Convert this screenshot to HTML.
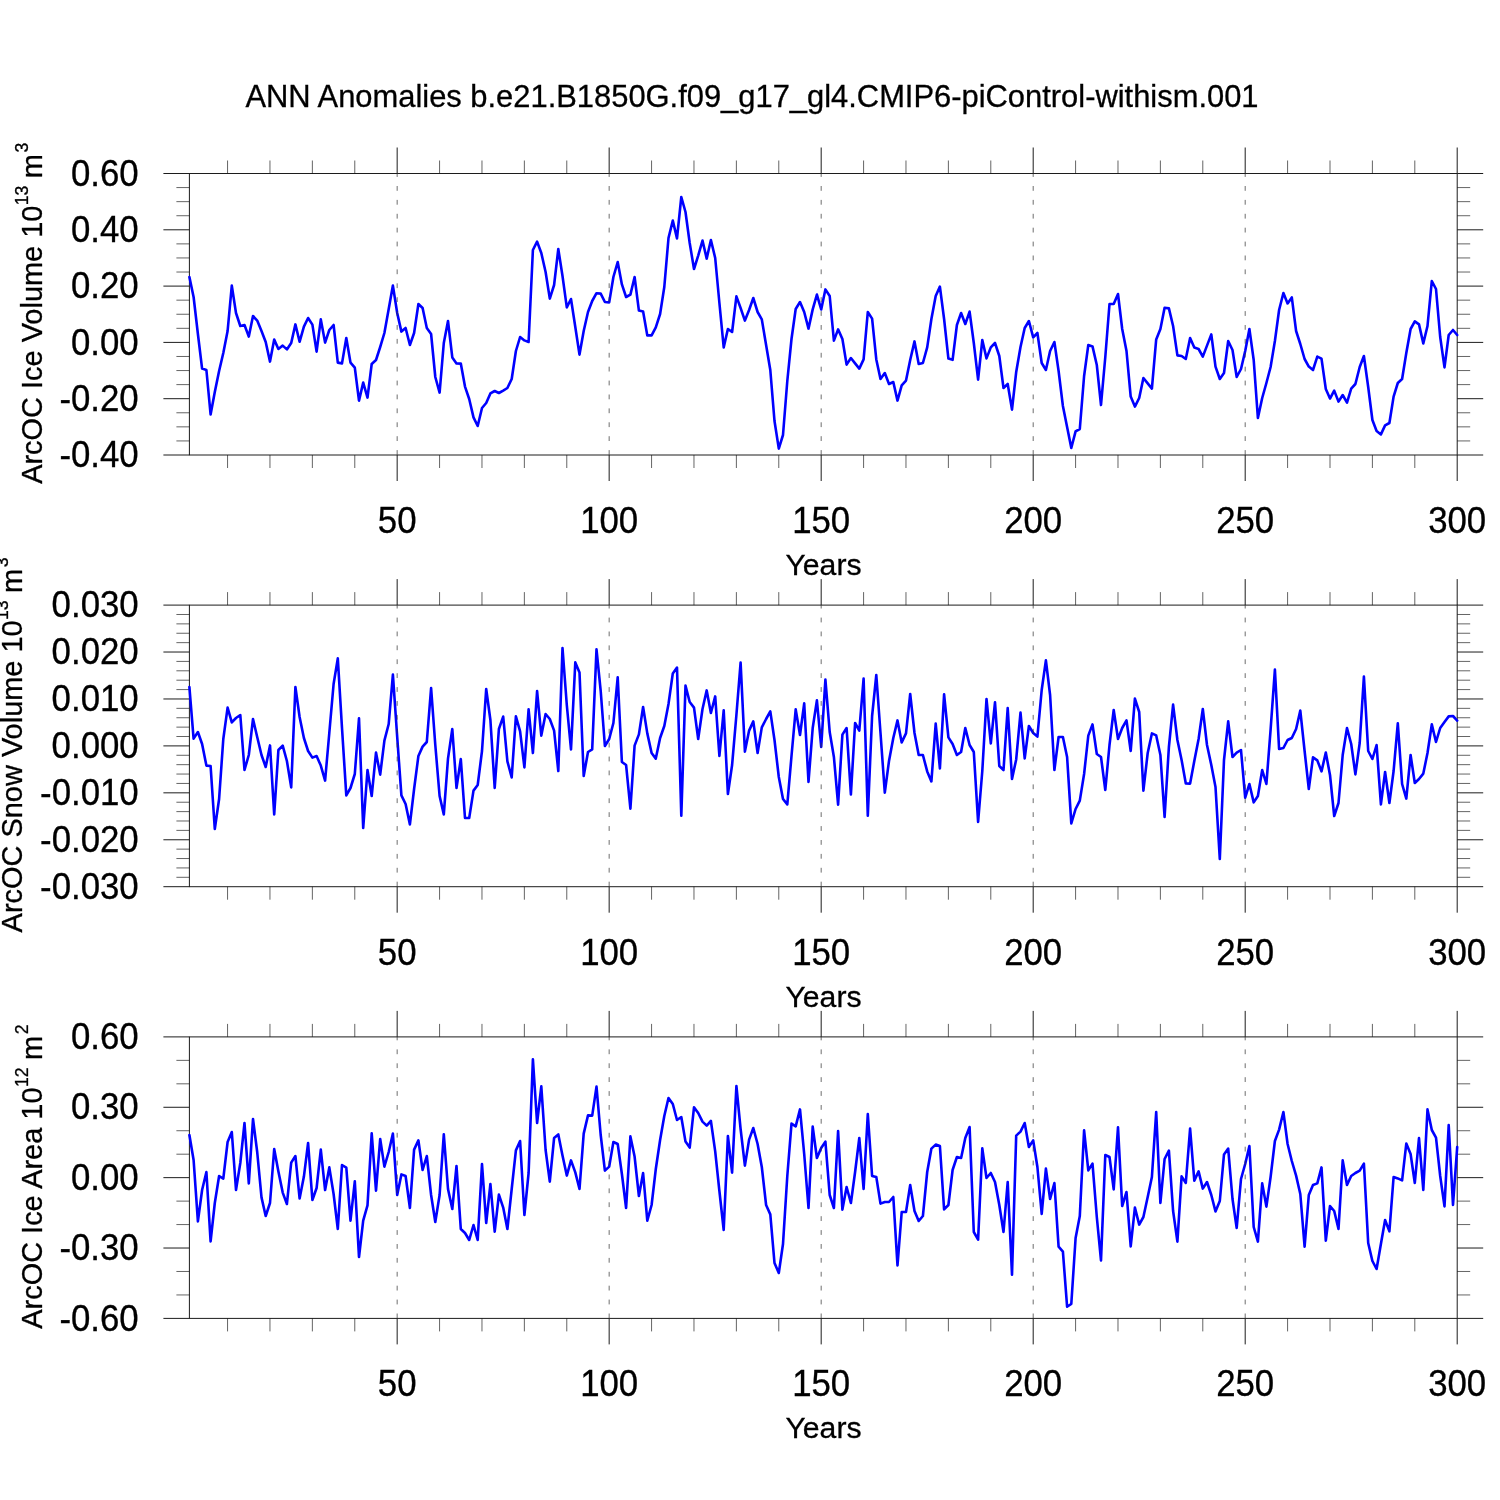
<!DOCTYPE html>
<html><head><meta charset="utf-8"><title>ANN Anomalies</title>
<style>
html,body{margin:0;padding:0;background:#fff;}
svg{display:block;}
text{font-family:"Liberation Sans",Arial,Helvetica,sans-serif;fill:#000;stroke:#000;stroke-width:0.3px;}
.tl{font-size:34.8px;}
.ax{font-size:30.2px;}
.sup{font-size:17.6px;}
.yl{font-size:28.95px;}
.fr{stroke:#1c1c1c;stroke-width:1;fill:none;}
.mj{stroke:#1c1c1c;stroke-width:1;}
.mn{stroke:#111;stroke-width:0.65;}
.gd{stroke:#333;stroke-width:0.72;stroke-dasharray:4.8 9.1;stroke-dashoffset:1.4;fill:none;}
.ln{stroke:#0000ff;stroke-width:2.6;fill:none;stroke-linejoin:round;stroke-linecap:round;}
</style></head><body>
<svg width="1500" height="1500" viewBox="0 0 1500 1500">
<rect width="1500" height="1500" fill="#fff"/>
<text class="ax" x="752" y="106.5" text-anchor="middle" style="font-size:30.9px">ANN Anomalies b.e21.B1850G.f09_g17_gl4.CMIP6-piControl-withism.001</text>

<g>
<rect class="fr" x="189.40" y="173.50" width="1267.80" height="281.50"/>
<path class="mj" d="M397.17 173.50V147.50M397.17 455.00V481.00M609.17 173.50V147.50M609.17 455.00V481.00M821.18 173.50V147.50M821.18 455.00V481.00M1033.19 173.50V147.50M1033.19 455.00V481.00M1245.19 173.50V147.50M1245.19 455.00V481.00M1457.20 173.50V147.50M1457.20 455.00V481.00M189.40 173.50H163.40M1457.20 173.50H1483.20M189.40 229.80H163.40M1457.20 229.80H1483.20M189.40 286.10H163.40M1457.20 286.10H1483.20M189.40 342.40H163.40M1457.20 342.40H1483.20M189.40 398.70H163.40M1457.20 398.70H1483.20M189.40 455.00H163.40M1457.20 455.00H1483.20"/>
<path class="mn" d="M227.56 173.50V160.50M227.56 455.00V468.00M269.96 173.50V160.50M269.96 455.00V468.00M312.36 173.50V160.50M312.36 455.00V468.00M354.77 173.50V160.50M354.77 455.00V468.00M439.57 173.50V160.50M439.57 455.00V468.00M481.97 173.50V160.50M481.97 455.00V468.00M524.37 173.50V160.50M524.37 455.00V468.00M566.77 173.50V160.50M566.77 455.00V468.00M651.57 173.50V160.50M651.57 455.00V468.00M693.98 173.50V160.50M693.98 455.00V468.00M736.38 173.50V160.50M736.38 455.00V468.00M778.78 173.50V160.50M778.78 455.00V468.00M863.58 173.50V160.50M863.58 455.00V468.00M905.98 173.50V160.50M905.98 455.00V468.00M948.38 173.50V160.50M948.38 455.00V468.00M990.79 173.50V160.50M990.79 455.00V468.00M1075.59 173.50V160.50M1075.59 455.00V468.00M1117.99 173.50V160.50M1117.99 455.00V468.00M1160.39 173.50V160.50M1160.39 455.00V468.00M1202.79 173.50V160.50M1202.79 455.00V468.00M1287.59 173.50V160.50M1287.59 455.00V468.00M1330.00 173.50V160.50M1330.00 455.00V468.00M1372.40 173.50V160.50M1372.40 455.00V468.00M1414.80 173.50V160.50M1414.80 455.00V468.00M189.40 187.57H176.40M1457.20 187.57H1470.20M189.40 201.65H176.40M1457.20 201.65H1470.20M189.40 215.72H176.40M1457.20 215.72H1470.20M189.40 243.88H176.40M1457.20 243.88H1470.20M189.40 257.95H176.40M1457.20 257.95H1470.20M189.40 272.02H176.40M1457.20 272.02H1470.20M189.40 300.17H176.40M1457.20 300.17H1470.20M189.40 314.25H176.40M1457.20 314.25H1470.20M189.40 328.32H176.40M1457.20 328.32H1470.20M189.40 356.47H176.40M1457.20 356.47H1470.20M189.40 370.55H176.40M1457.20 370.55H1470.20M189.40 384.62H176.40M1457.20 384.62H1470.20M189.40 412.77H176.40M1457.20 412.77H1470.20M189.40 426.85H176.40M1457.20 426.85H1470.20M189.40 440.93H176.40M1457.20 440.93H1470.20"/>
<text class="tl" transform="translate(138.7 185.70) scale(1 1.05)" text-anchor="end">0.60</text>
<text class="tl" transform="translate(138.7 242.00) scale(1 1.05)" text-anchor="end">0.40</text>
<text class="tl" transform="translate(138.7 298.30) scale(1 1.05)" text-anchor="end">0.20</text>
<text class="tl" transform="translate(138.7 354.60) scale(1 1.05)" text-anchor="end">0.00</text>
<text class="tl" transform="translate(138.7 410.90) scale(1 1.05)" text-anchor="end">-0.20</text>
<text class="tl" transform="translate(138.7 467.20) scale(1 1.05)" text-anchor="end">-0.40</text>
<text class="tl" transform="translate(397.17 532.80) scale(1 1.05)" text-anchor="middle">50</text>
<text class="tl" transform="translate(609.17 532.80) scale(1 1.05)" text-anchor="middle">100</text>
<text class="tl" transform="translate(821.18 532.80) scale(1 1.05)" text-anchor="middle">150</text>
<text class="tl" transform="translate(1033.19 532.80) scale(1 1.05)" text-anchor="middle">200</text>
<text class="tl" transform="translate(1245.19 532.80) scale(1 1.05)" text-anchor="middle">250</text>
<text class="tl" transform="translate(1457.20 532.80) scale(1 1.05)" text-anchor="middle">300</text>
<text class="ax" x="823.5" y="575.00" text-anchor="middle">Years</text>
<text class="yl" transform="translate(42.30 313.25) rotate(-90) scale(1 1.02)" text-anchor="middle">ArcOC Ice Volume 10<tspan class="sup" dy="-13.7" dx="0.4">13</tspan><tspan dy="13.7" dx="-0.6"> m</tspan><tspan class="sup" dy="-13.7" dx="1.6">3</tspan></text>
<polyline class="ln" points="189.4,277.0 193.6,297.0 197.9,334.0 202.1,368.6 206.4,370.0 210.6,414.4 214.8,392.0 219.1,371.0 223.3,353.0 227.6,331.0 231.8,285.6 236.0,313.0 240.3,326.0 244.5,325.0 248.8,336.6 253.0,316.0 257.2,320.6 261.5,331.0 265.7,342.0 270.0,361.6 274.2,339.6 278.4,349.0 282.7,345.6 286.9,349.4 291.2,343.0 295.4,324.4 299.6,341.8 303.9,326.6 308.1,318.0 312.4,324.6 316.6,351.6 320.8,319.4 325.1,342.6 329.3,330.0 333.6,325.0 337.8,362.6 342.0,363.4 346.3,338.0 350.5,362.6 354.8,367.6 359.0,400.6 363.2,382.6 367.5,397.6 371.7,364.0 376.0,360.0 380.2,347.0 384.4,333.0 388.7,309.0 392.9,285.6 397.2,313.0 401.4,331.6 405.6,328.0 409.9,345.0 414.1,333.0 418.4,304.0 422.6,308.0 426.8,328.0 431.1,334.0 435.3,377.0 439.6,392.6 443.8,343.0 448.0,321.0 452.3,357.4 456.5,363.4 460.8,363.6 465.0,386.6 469.2,399.0 473.5,417.4 477.7,426.0 482.0,408.0 486.2,403.0 490.4,393.4 494.7,391.0 498.9,393.0 503.2,390.6 507.4,388.0 511.7,379.0 515.9,351.0 520.1,337.0 524.4,340.4 528.6,342.0 532.9,250.0 537.1,241.6 541.3,253.0 545.6,272.0 549.8,298.6 554.1,285.0 558.3,249.0 562.5,276.0 566.8,307.4 571.0,299.0 575.3,327.0 579.5,354.6 583.7,331.0 588.0,312.0 592.2,301.0 596.5,293.2 600.7,293.6 604.9,302.0 609.2,302.4 613.4,277.0 617.7,262.0 621.9,284.4 626.1,297.0 630.4,294.6 634.6,277.0 638.9,310.6 643.1,311.6 647.3,335.4 651.6,335.4 655.8,327.4 660.1,314.0 664.3,287.0 668.5,238.0 672.8,220.6 677.0,238.4 681.3,197.0 685.5,212.0 689.7,243.0 694.0,269.0 698.2,255.6 702.5,240.6 706.7,258.6 710.9,240.0 715.2,258.0 719.4,303.0 723.7,347.4 727.9,329.0 732.1,332.0 736.4,296.4 740.6,308.0 744.9,320.6 749.1,310.0 753.3,298.0 757.6,312.0 761.8,319.4 766.1,345.0 770.3,370.0 774.5,421.0 778.8,448.6 783.0,435.0 787.3,381.0 791.5,339.0 795.7,309.0 800.0,302.0 804.2,312.0 808.5,328.6 812.7,309.4 816.9,294.6 821.2,309.4 825.4,289.4 829.7,296.0 833.9,340.6 838.1,329.4 842.4,339.0 846.6,364.6 850.9,358.0 855.1,363.4 859.3,368.6 863.6,359.4 867.8,312.0 872.1,318.6 876.3,359.4 880.5,379.0 884.8,373.0 889.0,384.0 893.3,382.0 897.5,400.6 901.7,385.4 906.0,380.6 910.2,360.0 914.5,341.4 918.7,364.0 922.9,363.0 927.2,347.4 931.4,319.0 935.7,296.0 939.9,286.6 944.1,319.0 948.4,358.6 952.6,359.8 956.9,325.0 961.1,313.0 965.3,324.0 969.6,311.6 973.8,343.0 978.1,379.6 982.3,340.0 986.5,358.4 990.8,347.4 995.0,343.0 999.3,356.0 1003.5,388.0 1007.7,384.0 1012.0,409.6 1016.2,372.0 1020.5,347.0 1024.7,328.0 1028.9,321.0 1033.2,337.4 1037.4,333.0 1041.7,363.0 1045.9,370.0 1050.1,351.0 1054.4,342.0 1058.6,371.0 1062.9,406.0 1067.1,427.0 1071.3,448.0 1075.6,431.4 1079.8,429.0 1084.1,376.0 1088.3,345.0 1092.5,346.4 1096.8,365.0 1101.0,405.0 1105.3,357.0 1109.5,304.0 1113.7,304.0 1118.0,294.0 1122.2,329.0 1126.5,351.0 1130.7,396.6 1134.9,406.6 1139.2,398.0 1143.4,378.0 1147.7,383.4 1151.9,388.6 1156.2,339.4 1160.4,329.0 1164.6,307.8 1168.9,308.4 1173.1,326.0 1177.4,355.4 1181.6,356.0 1185.8,359.0 1190.1,338.0 1194.3,347.6 1198.6,349.0 1202.8,356.6 1207.0,345.6 1211.3,334.4 1215.5,366.6 1219.8,379.0 1224.0,373.0 1228.2,341.0 1232.5,350.0 1236.7,377.0 1241.0,369.0 1245.2,351.0 1249.4,329.0 1253.7,360.0 1257.9,418.0 1262.2,398.0 1266.4,383.0 1270.6,367.0 1274.9,341.0 1279.1,310.0 1283.4,293.0 1287.6,303.4 1291.8,297.4 1296.1,331.0 1300.3,344.0 1304.6,359.0 1308.8,366.6 1313.0,370.0 1317.3,356.6 1321.5,358.6 1325.8,389.0 1330.0,398.6 1334.2,390.6 1338.5,401.6 1342.7,395.0 1347.0,402.6 1351.2,388.6 1355.4,384.0 1359.7,367.0 1363.9,356.0 1368.2,387.0 1372.4,420.0 1376.6,431.0 1380.9,434.4 1385.1,425.4 1389.4,423.0 1393.6,396.6 1397.8,383.0 1402.1,379.0 1406.3,353.0 1410.6,329.0 1414.8,321.4 1419.0,324.4 1423.3,343.4 1427.5,326.0 1431.8,281.0 1436.0,289.0 1440.2,337.0 1444.5,367.4 1448.7,335.0 1453.0,330.0 1457.2,335.0"/>
<path class="gd" d="M397.17 173.50V455.00M609.17 173.50V455.00M821.18 173.50V455.00M1033.19 173.50V455.00M1245.19 173.50V455.00"/>
</g>
<g>
<rect class="fr" x="189.40" y="605.10" width="1267.80" height="281.60"/>
<path class="mj" d="M397.17 605.10V579.10M397.17 886.70V912.70M609.17 605.10V579.10M609.17 886.70V912.70M821.18 605.10V579.10M821.18 886.70V912.70M1033.19 605.10V579.10M1033.19 886.70V912.70M1245.19 605.10V579.10M1245.19 886.70V912.70M1457.20 605.10V579.10M1457.20 886.70V912.70M189.40 605.10H163.40M1457.20 605.10H1483.20M189.40 652.03H163.40M1457.20 652.03H1483.20M189.40 698.97H163.40M1457.20 698.97H1483.20M189.40 745.90H163.40M1457.20 745.90H1483.20M189.40 792.83H163.40M1457.20 792.83H1483.20M189.40 839.77H163.40M1457.20 839.77H1483.20M189.40 886.70H163.40M1457.20 886.70H1483.20"/>
<path class="mn" d="M227.56 605.10V592.10M227.56 886.70V899.70M269.96 605.10V592.10M269.96 886.70V899.70M312.36 605.10V592.10M312.36 886.70V899.70M354.77 605.10V592.10M354.77 886.70V899.70M439.57 605.10V592.10M439.57 886.70V899.70M481.97 605.10V592.10M481.97 886.70V899.70M524.37 605.10V592.10M524.37 886.70V899.70M566.77 605.10V592.10M566.77 886.70V899.70M651.57 605.10V592.10M651.57 886.70V899.70M693.98 605.10V592.10M693.98 886.70V899.70M736.38 605.10V592.10M736.38 886.70V899.70M778.78 605.10V592.10M778.78 886.70V899.70M863.58 605.10V592.10M863.58 886.70V899.70M905.98 605.10V592.10M905.98 886.70V899.70M948.38 605.10V592.10M948.38 886.70V899.70M990.79 605.10V592.10M990.79 886.70V899.70M1075.59 605.10V592.10M1075.59 886.70V899.70M1117.99 605.10V592.10M1117.99 886.70V899.70M1160.39 605.10V592.10M1160.39 886.70V899.70M1202.79 605.10V592.10M1202.79 886.70V899.70M1287.59 605.10V592.10M1287.59 886.70V899.70M1330.00 605.10V592.10M1330.00 886.70V899.70M1372.40 605.10V592.10M1372.40 886.70V899.70M1414.80 605.10V592.10M1414.80 886.70V899.70M189.40 614.49H176.40M1457.20 614.49H1470.20M189.40 623.87H176.40M1457.20 623.87H1470.20M189.40 633.26H176.40M1457.20 633.26H1470.20M189.40 642.65H176.40M1457.20 642.65H1470.20M189.40 661.42H176.40M1457.20 661.42H1470.20M189.40 670.81H176.40M1457.20 670.81H1470.20M189.40 680.19H176.40M1457.20 680.19H1470.20M189.40 689.58H176.40M1457.20 689.58H1470.20M189.40 708.35H176.40M1457.20 708.35H1470.20M189.40 717.74H176.40M1457.20 717.74H1470.20M189.40 727.13H176.40M1457.20 727.13H1470.20M189.40 736.51H176.40M1457.20 736.51H1470.20M189.40 755.29H176.40M1457.20 755.29H1470.20M189.40 764.67H176.40M1457.20 764.67H1470.20M189.40 774.06H176.40M1457.20 774.06H1470.20M189.40 783.45H176.40M1457.20 783.45H1470.20M189.40 802.22H176.40M1457.20 802.22H1470.20M189.40 811.61H176.40M1457.20 811.61H1470.20M189.40 820.99H176.40M1457.20 820.99H1470.20M189.40 830.38H176.40M1457.20 830.38H1470.20M189.40 849.15H176.40M1457.20 849.15H1470.20M189.40 858.54H176.40M1457.20 858.54H1470.20M189.40 867.93H176.40M1457.20 867.93H1470.20M189.40 877.31H176.40M1457.20 877.31H1470.20"/>
<text class="tl" transform="translate(138.7 617.30) scale(1 1.05)" text-anchor="end">0.030</text>
<text class="tl" transform="translate(138.7 664.23) scale(1 1.05)" text-anchor="end">0.020</text>
<text class="tl" transform="translate(138.7 711.17) scale(1 1.05)" text-anchor="end">0.010</text>
<text class="tl" transform="translate(138.7 758.10) scale(1 1.05)" text-anchor="end">0.000</text>
<text class="tl" transform="translate(138.7 805.03) scale(1 1.05)" text-anchor="end">-0.010</text>
<text class="tl" transform="translate(138.7 851.97) scale(1 1.05)" text-anchor="end">-0.020</text>
<text class="tl" transform="translate(138.7 898.90) scale(1 1.05)" text-anchor="end">-0.030</text>
<text class="tl" transform="translate(397.17 964.50) scale(1 1.05)" text-anchor="middle">50</text>
<text class="tl" transform="translate(609.17 964.50) scale(1 1.05)" text-anchor="middle">100</text>
<text class="tl" transform="translate(821.18 964.50) scale(1 1.05)" text-anchor="middle">150</text>
<text class="tl" transform="translate(1033.19 964.50) scale(1 1.05)" text-anchor="middle">200</text>
<text class="tl" transform="translate(1245.19 964.50) scale(1 1.05)" text-anchor="middle">250</text>
<text class="tl" transform="translate(1457.20 964.50) scale(1 1.05)" text-anchor="middle">300</text>
<text class="ax" x="823.5" y="1006.70" text-anchor="middle">Years</text>
<text class="yl" transform="translate(22.00 744.90) rotate(-90) scale(1 1.02)" text-anchor="middle">ArcOC Snow Volume 10<tspan class="sup" dy="-13.7" dx="0.4">13</tspan><tspan dy="13.7" dx="-0.6"> m</tspan><tspan class="sup" dy="-13.7" dx="1.6">3</tspan></text>
<polyline class="ln" points="189.4,687.0 193.6,738.6 197.9,732.0 202.1,744.0 206.4,765.6 210.6,766.0 214.8,829.0 219.1,799.0 223.3,739.0 227.6,707.6 231.8,722.4 236.0,718.0 240.3,715.0 244.5,770.0 248.8,755.0 253.0,719.0 257.2,737.0 261.5,755.0 265.7,767.0 270.0,745.4 274.2,814.4 278.4,750.0 282.7,745.6 286.9,761.0 291.2,787.4 295.4,687.0 299.6,717.0 303.9,738.0 308.1,751.0 312.4,757.6 316.6,756.0 320.8,765.6 325.1,780.6 329.3,733.0 333.6,684.0 337.8,658.4 342.0,728.0 346.3,795.4 350.5,788.0 354.8,774.0 359.0,718.4 363.2,828.0 367.5,770.0 371.7,796.0 376.0,752.6 380.2,774.6 384.4,740.6 388.7,724.0 392.9,674.6 397.2,737.0 401.4,795.4 405.6,804.0 409.9,824.4 414.1,789.0 418.4,756.0 422.6,746.6 426.8,742.0 431.1,688.0 435.3,745.0 439.6,796.0 443.8,814.4 448.0,758.6 452.3,729.0 456.5,788.0 460.8,759.0 465.0,818.0 469.2,818.0 473.5,790.6 477.7,785.0 482.0,751.0 486.2,689.0 490.4,720.0 494.7,788.0 498.9,729.0 503.2,716.6 507.4,761.4 511.7,777.4 515.9,716.4 520.1,731.4 524.4,767.4 528.6,709.4 532.9,753.0 537.1,691.0 541.3,735.6 545.6,714.0 549.8,719.0 554.1,730.6 558.3,771.0 562.5,648.0 566.8,705.0 571.0,749.4 575.3,662.4 579.5,672.4 583.7,776.0 588.0,752.0 592.2,749.4 596.5,649.4 600.7,691.0 604.9,746.0 609.2,739.0 613.4,723.0 617.7,677.4 621.9,762.0 626.1,765.0 630.4,808.6 634.6,745.6 638.9,734.4 643.1,707.0 647.3,733.4 651.6,753.0 655.8,758.6 660.1,738.0 664.3,726.0 668.5,704.0 672.8,673.4 677.0,667.6 681.3,815.6 685.5,685.6 689.7,702.0 694.0,707.6 698.2,739.0 702.5,709.0 706.7,690.4 710.9,713.0 715.2,696.4 719.4,756.0 723.7,710.4 727.9,794.0 732.1,765.0 736.4,715.0 740.6,662.6 744.9,751.6 749.1,730.6 753.3,721.4 757.6,753.0 761.8,727.4 766.1,719.0 770.3,711.4 774.5,740.0 778.8,777.0 783.0,799.0 787.3,804.4 791.5,756.0 795.7,709.4 800.0,735.0 804.2,703.4 808.5,782.0 812.7,728.0 816.9,700.4 821.2,747.0 825.4,679.6 829.7,732.0 833.9,757.0 838.1,804.6 842.4,734.6 846.6,728.0 850.9,794.4 855.1,723.0 859.3,730.6 863.6,678.6 867.8,815.6 872.1,716.0 876.3,675.0 880.5,733.0 884.8,792.6 889.0,761.0 893.3,738.0 897.5,720.4 901.7,742.4 906.0,733.4 910.2,694.0 914.5,733.0 918.7,755.0 922.9,755.0 927.2,771.4 931.4,781.4 935.7,723.6 939.9,768.4 944.1,694.4 948.4,737.4 952.6,744.0 956.9,755.0 961.1,752.0 965.3,728.0 969.6,745.0 973.8,752.0 978.1,822.0 982.3,771.0 986.5,699.0 990.8,743.4 995.0,702.4 999.3,766.0 1003.5,770.0 1007.7,708.0 1012.0,779.0 1016.2,759.4 1020.5,712.6 1024.7,758.4 1028.9,726.0 1033.2,733.0 1037.4,736.6 1041.7,690.0 1045.9,660.4 1050.1,695.0 1054.4,770.0 1058.6,737.0 1062.9,737.0 1067.1,757.0 1071.3,823.4 1075.6,809.0 1079.8,800.6 1084.1,774.0 1088.3,735.6 1092.5,724.4 1096.8,754.0 1101.0,757.0 1105.3,790.0 1109.5,745.0 1113.7,710.0 1118.0,739.0 1122.2,728.0 1126.5,720.4 1130.7,751.0 1134.9,698.6 1139.2,712.0 1143.4,790.6 1147.7,753.0 1151.9,733.4 1156.2,735.4 1160.4,755.0 1164.6,817.0 1168.9,747.0 1173.1,704.6 1177.4,740.0 1181.6,760.0 1185.8,783.4 1190.1,783.6 1194.3,761.0 1198.6,739.0 1202.8,709.0 1207.0,745.0 1211.3,765.0 1215.5,787.0 1219.8,859.0 1224.0,760.0 1228.2,721.4 1232.5,757.0 1236.7,752.6 1241.0,750.0 1245.2,797.6 1249.4,784.0 1253.7,802.4 1257.9,796.0 1262.2,770.0 1266.4,784.0 1270.6,729.6 1274.9,669.6 1279.1,749.0 1283.4,748.0 1287.6,740.0 1291.8,738.0 1296.1,729.0 1300.3,710.6 1304.6,751.0 1308.8,789.0 1313.0,757.4 1317.3,760.4 1321.5,771.4 1325.8,752.6 1330.0,775.0 1334.2,816.0 1338.5,803.0 1342.7,755.0 1347.0,728.0 1351.2,744.0 1355.4,774.4 1359.7,743.0 1363.9,676.6 1368.2,751.0 1372.4,759.0 1376.6,745.0 1380.9,804.4 1385.1,772.0 1389.4,803.0 1393.6,771.0 1397.8,723.4 1402.1,784.0 1406.3,798.6 1410.6,755.0 1414.8,783.0 1419.0,779.0 1423.3,773.6 1427.5,753.0 1431.8,724.4 1436.0,742.0 1440.2,728.0 1444.5,722.0 1448.7,716.4 1453.0,716.0 1457.2,720.6"/>
<path class="gd" d="M397.17 605.10V886.70M609.17 605.10V886.70M821.18 605.10V886.70M1033.19 605.10V886.70M1245.19 605.10V886.70"/>
</g>
<g>
<rect class="fr" x="189.40" y="1036.90" width="1267.80" height="281.50"/>
<path class="mj" d="M397.17 1036.90V1010.90M397.17 1318.40V1344.40M609.17 1036.90V1010.90M609.17 1318.40V1344.40M821.18 1036.90V1010.90M821.18 1318.40V1344.40M1033.19 1036.90V1010.90M1033.19 1318.40V1344.40M1245.19 1036.90V1010.90M1245.19 1318.40V1344.40M1457.20 1036.90V1010.90M1457.20 1318.40V1344.40M189.40 1036.90H163.40M1457.20 1036.90H1483.20M189.40 1107.28H163.40M1457.20 1107.28H1483.20M189.40 1177.65H163.40M1457.20 1177.65H1483.20M189.40 1248.03H163.40M1457.20 1248.03H1483.20M189.40 1318.40H163.40M1457.20 1318.40H1483.20"/>
<path class="mn" d="M227.56 1036.90V1023.90M227.56 1318.40V1331.40M269.96 1036.90V1023.90M269.96 1318.40V1331.40M312.36 1036.90V1023.90M312.36 1318.40V1331.40M354.77 1036.90V1023.90M354.77 1318.40V1331.40M439.57 1036.90V1023.90M439.57 1318.40V1331.40M481.97 1036.90V1023.90M481.97 1318.40V1331.40M524.37 1036.90V1023.90M524.37 1318.40V1331.40M566.77 1036.90V1023.90M566.77 1318.40V1331.40M651.57 1036.90V1023.90M651.57 1318.40V1331.40M693.98 1036.90V1023.90M693.98 1318.40V1331.40M736.38 1036.90V1023.90M736.38 1318.40V1331.40M778.78 1036.90V1023.90M778.78 1318.40V1331.40M863.58 1036.90V1023.90M863.58 1318.40V1331.40M905.98 1036.90V1023.90M905.98 1318.40V1331.40M948.38 1036.90V1023.90M948.38 1318.40V1331.40M990.79 1036.90V1023.90M990.79 1318.40V1331.40M1075.59 1036.90V1023.90M1075.59 1318.40V1331.40M1117.99 1036.90V1023.90M1117.99 1318.40V1331.40M1160.39 1036.90V1023.90M1160.39 1318.40V1331.40M1202.79 1036.90V1023.90M1202.79 1318.40V1331.40M1287.59 1036.90V1023.90M1287.59 1318.40V1331.40M1330.00 1036.90V1023.90M1330.00 1318.40V1331.40M1372.40 1036.90V1023.90M1372.40 1318.40V1331.40M1414.80 1036.90V1023.90M1414.80 1318.40V1331.40M189.40 1060.36H176.40M1457.20 1060.36H1470.20M189.40 1083.82H176.40M1457.20 1083.82H1470.20M189.40 1130.73H176.40M1457.20 1130.73H1470.20M189.40 1154.19H176.40M1457.20 1154.19H1470.20M189.40 1201.11H176.40M1457.20 1201.11H1470.20M189.40 1224.57H176.40M1457.20 1224.57H1470.20M189.40 1271.48H176.40M1457.20 1271.48H1470.20M189.40 1294.94H176.40M1457.20 1294.94H1470.20"/>
<text class="tl" transform="translate(138.7 1049.10) scale(1 1.05)" text-anchor="end">0.60</text>
<text class="tl" transform="translate(138.7 1119.48) scale(1 1.05)" text-anchor="end">0.30</text>
<text class="tl" transform="translate(138.7 1189.85) scale(1 1.05)" text-anchor="end">0.00</text>
<text class="tl" transform="translate(138.7 1260.23) scale(1 1.05)" text-anchor="end">-0.30</text>
<text class="tl" transform="translate(138.7 1330.60) scale(1 1.05)" text-anchor="end">-0.60</text>
<text class="tl" transform="translate(397.17 1396.20) scale(1 1.05)" text-anchor="middle">50</text>
<text class="tl" transform="translate(609.17 1396.20) scale(1 1.05)" text-anchor="middle">100</text>
<text class="tl" transform="translate(821.18 1396.20) scale(1 1.05)" text-anchor="middle">150</text>
<text class="tl" transform="translate(1033.19 1396.20) scale(1 1.05)" text-anchor="middle">200</text>
<text class="tl" transform="translate(1245.19 1396.20) scale(1 1.05)" text-anchor="middle">250</text>
<text class="tl" transform="translate(1457.20 1396.20) scale(1 1.05)" text-anchor="middle">300</text>
<text class="ax" x="823.5" y="1438.40" text-anchor="middle">Years</text>
<text class="yl" transform="translate(42.30 1176.65) rotate(-90) scale(1 1.02)" text-anchor="middle">ArcOC Ice Area 10<tspan class="sup" dy="-13.7" dx="0.4">12</tspan><tspan dy="13.7" dx="-0.6"> m</tspan><tspan class="sup" dy="-13.7" dx="1.6">2</tspan></text>
<polyline class="ln" points="189.4,1135.0 193.6,1160.0 197.9,1221.4 202.1,1190.0 206.4,1172.0 210.6,1241.4 214.8,1203.0 219.1,1176.0 223.3,1178.6 227.6,1142.0 231.8,1132.0 236.0,1190.0 240.3,1163.0 244.5,1123.0 248.8,1183.4 253.0,1119.0 257.2,1152.0 261.5,1197.4 265.7,1216.0 270.0,1203.0 274.2,1149.0 278.4,1171.4 282.7,1192.6 286.9,1204.0 291.2,1162.6 295.4,1156.0 299.6,1198.4 303.9,1176.6 308.1,1143.0 312.4,1200.0 316.6,1188.0 320.8,1149.6 325.1,1190.0 329.3,1167.4 333.6,1194.0 337.8,1229.0 342.0,1165.0 346.3,1167.6 350.5,1220.6 354.8,1181.4 359.0,1257.0 363.2,1220.6 367.5,1205.4 371.7,1133.4 376.0,1190.6 380.2,1139.0 384.4,1166.6 388.7,1152.0 392.9,1133.6 397.2,1195.0 401.4,1174.4 405.6,1176.0 409.9,1208.0 414.1,1149.6 418.4,1140.4 422.6,1170.0 426.8,1156.0 431.1,1195.0 435.3,1222.0 439.6,1195.0 443.8,1134.4 448.0,1189.0 452.3,1209.0 456.5,1166.0 460.8,1229.0 465.0,1233.0 469.2,1240.0 473.5,1225.0 477.7,1240.0 482.0,1164.0 486.2,1223.0 490.4,1184.0 494.7,1231.6 498.9,1194.6 503.2,1207.6 507.4,1229.0 511.7,1189.0 515.9,1150.4 520.1,1141.0 524.4,1215.0 528.6,1173.0 532.9,1059.4 537.1,1123.0 541.3,1086.4 545.6,1150.0 549.8,1181.6 554.1,1138.0 558.3,1134.4 562.5,1155.6 566.8,1175.6 571.0,1160.4 575.3,1172.4 579.5,1189.0 583.7,1133.6 588.0,1115.4 592.2,1115.6 596.5,1086.6 600.7,1135.0 604.9,1170.6 609.2,1166.6 613.4,1142.0 617.7,1144.0 621.9,1174.0 626.1,1208.0 630.4,1136.4 634.6,1156.6 638.9,1196.0 643.1,1173.0 647.3,1220.6 651.6,1205.0 655.8,1169.0 660.1,1140.0 664.3,1116.0 668.5,1098.0 672.8,1104.0 677.0,1120.0 681.3,1117.0 685.5,1141.6 689.7,1147.6 694.0,1107.4 698.2,1113.0 702.5,1121.6 706.7,1125.6 710.9,1121.0 715.2,1151.4 719.4,1191.0 723.7,1230.0 727.9,1136.0 732.1,1172.6 736.4,1086.0 740.6,1129.0 744.9,1165.6 749.1,1139.6 753.3,1128.0 757.6,1144.0 761.8,1167.0 766.1,1205.0 770.3,1214.4 774.5,1263.0 778.8,1273.0 783.0,1244.0 787.3,1176.0 791.5,1123.6 795.7,1126.4 800.0,1109.4 804.2,1154.0 808.5,1208.0 812.7,1126.6 816.9,1158.0 821.2,1148.0 825.4,1141.6 829.7,1195.0 833.9,1208.0 838.1,1131.0 842.4,1209.6 846.6,1187.0 850.9,1203.0 855.1,1172.0 859.3,1138.0 863.6,1189.0 867.8,1114.0 872.1,1176.0 876.3,1177.0 880.5,1203.6 884.8,1202.0 889.0,1202.0 893.3,1197.0 897.5,1265.4 901.7,1212.0 906.0,1212.0 910.2,1185.0 914.5,1211.0 918.7,1221.0 922.9,1216.0 927.2,1172.0 931.4,1148.6 935.7,1144.6 939.9,1146.0 944.1,1209.4 948.4,1205.0 952.6,1170.0 956.9,1157.0 961.1,1158.0 965.3,1138.0 969.6,1127.0 973.8,1232.0 978.1,1239.6 982.3,1148.4 986.5,1178.0 990.8,1173.0 995.0,1182.0 999.3,1205.0 1003.5,1232.0 1007.7,1182.0 1012.0,1274.6 1016.2,1135.6 1020.5,1131.6 1024.7,1123.0 1028.9,1147.0 1033.2,1140.4 1037.4,1167.0 1041.7,1214.0 1045.9,1168.6 1050.1,1199.0 1054.4,1183.0 1058.6,1246.6 1062.9,1251.6 1067.1,1306.6 1071.3,1304.0 1075.6,1238.0 1079.8,1216.0 1084.1,1130.4 1088.3,1170.4 1092.5,1163.6 1096.8,1217.0 1101.0,1260.4 1105.3,1155.0 1109.5,1157.0 1113.7,1189.4 1118.0,1127.4 1122.2,1206.0 1126.5,1192.0 1130.7,1246.4 1134.9,1207.6 1139.2,1224.6 1143.4,1217.0 1147.7,1197.0 1151.9,1177.0 1156.2,1112.0 1160.4,1203.0 1164.6,1159.0 1168.9,1150.6 1173.1,1211.0 1177.4,1241.6 1181.6,1176.4 1185.8,1183.0 1190.1,1128.6 1194.3,1180.6 1198.6,1171.4 1202.8,1188.6 1207.0,1182.0 1211.3,1195.0 1215.5,1211.4 1219.8,1201.0 1224.0,1154.4 1228.2,1148.6 1232.5,1199.0 1236.7,1228.0 1241.0,1179.0 1245.2,1164.0 1249.4,1146.0 1253.7,1227.0 1257.9,1241.6 1262.2,1183.4 1266.4,1206.6 1270.6,1177.0 1274.9,1141.0 1279.1,1129.6 1283.4,1112.0 1287.6,1144.0 1291.8,1161.0 1296.1,1175.6 1300.3,1194.0 1304.6,1246.6 1308.8,1195.0 1313.0,1185.0 1317.3,1183.4 1321.5,1167.4 1325.8,1240.6 1330.0,1206.0 1334.2,1211.0 1338.5,1229.0 1342.7,1160.4 1347.0,1185.0 1351.2,1176.0 1355.4,1173.0 1359.7,1170.6 1363.9,1163.6 1368.2,1243.0 1372.4,1261.0 1376.6,1269.0 1380.9,1244.0 1385.1,1220.0 1389.4,1231.4 1393.6,1177.0 1397.8,1178.4 1402.1,1180.4 1406.3,1143.6 1410.6,1154.0 1414.8,1183.0 1419.0,1138.0 1423.3,1190.0 1427.5,1109.4 1431.8,1130.0 1436.0,1137.6 1440.2,1176.0 1444.5,1206.4 1448.7,1125.0 1453.0,1205.0 1457.2,1147.0"/>
<path class="gd" d="M397.17 1036.90V1318.40M609.17 1036.90V1318.40M821.18 1036.90V1318.40M1033.19 1036.90V1318.40M1245.19 1036.90V1318.40"/>
</g>
</svg></body></html>
